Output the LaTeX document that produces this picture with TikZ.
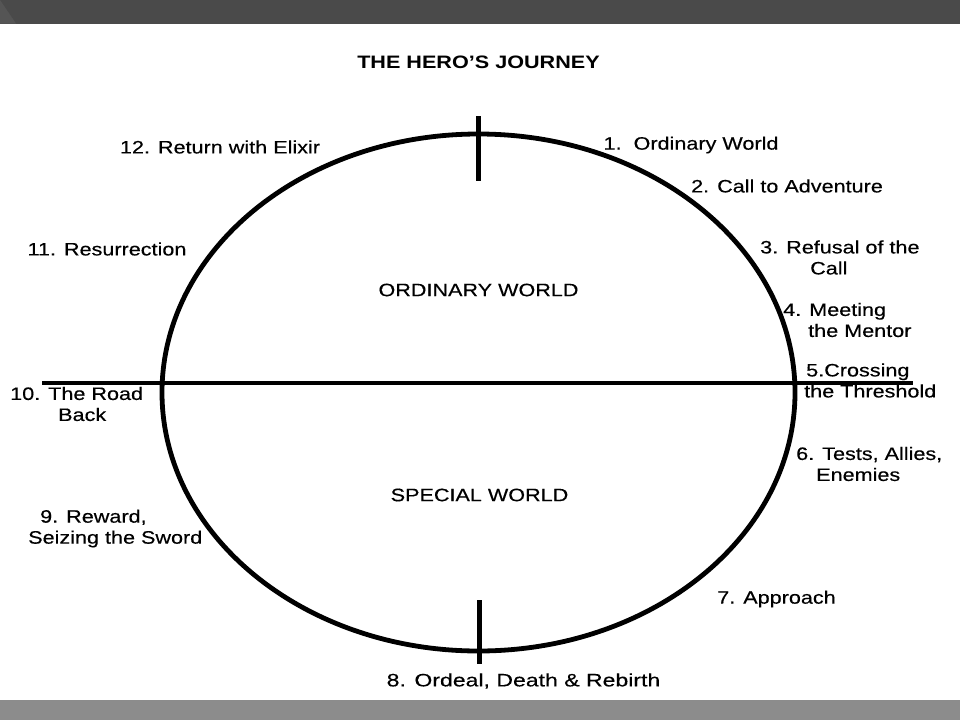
\documentclass[tikz,border=0pt]{standalone}
\usepackage{fontspec}
\setmainfont{Liberation Sans}[FakeStretch=1.2, FakeBold=0.35]
\newfontfamily\widefont{Liberation Sans}[FakeStretch=1.28, FakeBold=0.35]
\newfontfamily\titlefont{Liberation Sans Bold}[FakeStretch=1.2]
\usetikzlibrary{shapes.geometric}
\definecolor{topbar}{HTML}{4A4A4A}
\definecolor{topbarlight}{HTML}{555555}
\definecolor{botbar}{HTML}{8C8C8C}
\tikzset{
  lbl/.style={inner sep=0pt, font=\fontsize{18}{21}\selectfont, text=black},
  mlbl/.style={lbl, align=left, anchor=west},
  heavy/.style={line width=4pt, black},
  tick/.style={line width=5pt, black},
}
\begin{document}
\begin{tikzpicture}[x=1pt, y=-1pt]
\useasboundingbox (0,0) rectangle (960,720);
\fill[white] (0,0) rectangle (960,720);
% bars
\fill[topbar] (0,0) rectangle (960,23.5);
\fill[topbarlight] (0,0) -- (16,23.5) -- (0,23.5) -- cycle;
\fill[botbar] (0,700) rectangle (960,720);
% ellipse
\node[ellipse, draw, line width=4.8pt, minimum width=633pt, minimum height=517pt, inner sep=0pt] (journey) at (478.5,392.5) {};
% threshold line and ticks
\coordinate (hl) at (42,382.5);
\coordinate (hr) at (913,382.5);
\draw[heavy] (hl) -- (hr);
\coordinate (tt1) at (478,116);
\coordinate (tt2) at (478,181);
\draw[tick] (tt1) -- (tt2);
\coordinate (bt1) at (479,600);
\coordinate (bt2) at (479,664);
\draw[tick] (bt1) -- (bt2);
% title
\node[lbl, font=\fontsize{18}{21}\titlefont] (title) at (478.5,62) {THE HERO’S JOURNEY};
% world labels
\node[lbl] (ow) at (478.5,290) {ORDINARY WORLD};
\node[lbl] (sw) at (479.5,495) {SPECIAL WORLD};
% stage labels
\node[lbl] (s1) at (691,145) {1.\ \ Ordinary World};
\node[lbl] (s2) at (787,186) {2. Call to Adventure};
\node[mlbl] (s3) at (760,257.5) {3. Refusal of the\\\hspace*{50pt}Call};
\node[mlbl] (s4) at (783,320) {4. Meeting\\\hspace*{25pt}the Mentor};
\node[mlbl] (s5) at (804,380.5) {\hspace*{2pt}5.Crossing\\the Threshold};
\node[mlbl] (s6) at (796,464) {6. Tests, Allies,\\\hspace*{20pt}Enemies};
\node[lbl] (s7) at (776.5,599) {7. Approach};
\node[lbl, font=\fontsize{18}{21}\widefont] (s8) at (523.5,681) {8. Ordeal, Death \& Rebirth};
\node[mlbl] (s9) at (28,528.5) {\hspace*{12pt}9. Reward,\\Seizing the Sword};
\node[mlbl] (s10) at (10,404) {10. The Road\\\hspace*{48pt}Back};
\node[lbl] (s11) at (107,249) {11. Resurrection};
\node[lbl] (s12) at (220,147) {12. Return with Elixir};
\end{tikzpicture}
\end{document}
